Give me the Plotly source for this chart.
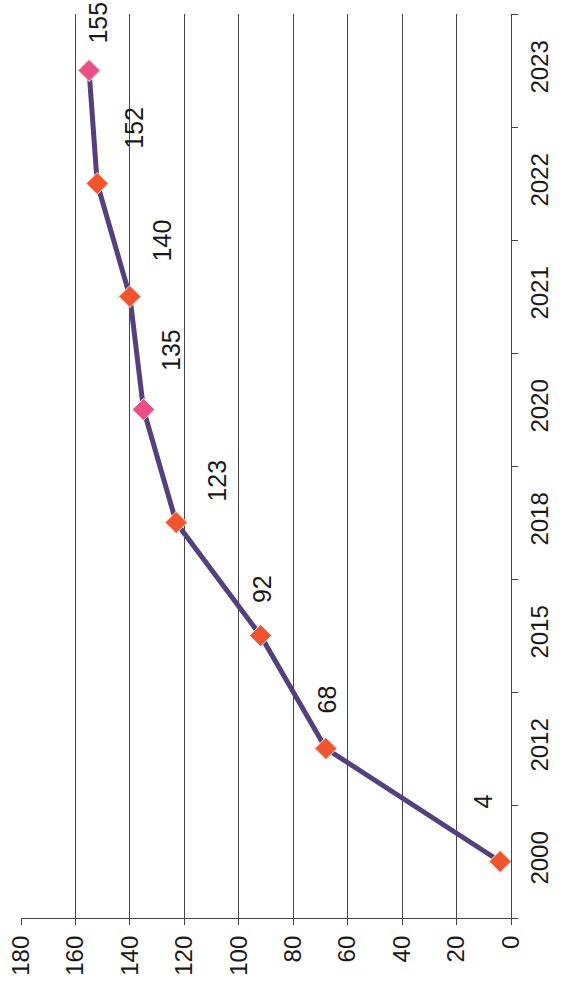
import plotly.graph_objects as go

years = ["2000", "2012", "2015", "2018", "2020", "2021", "2022", "2023"]
values = [4, 68, 92, 123, 135, 140, 152, 155]
value_ticks = [0, 20, 40, 60, 80, 100, 120, 140, 160, 180]

# styling (not data)
marker_colors = ["#F2552E", "#F2552E", "#F2552E", "#F2552E", "#EC4F86", "#F2552E", "#F2552E", "#EC4F86"]
label_dx = [-18, 1, 1, 40, 27, 32, 36, 8]
label_dy = [-60, -49, -46, -42, -59, -56, -56, -48]

FONT = "Liberation Sans, Arial, sans-serif"

fig = go.Figure()
fig.add_trace(go.Scatter(
    x=values, y=years, mode="lines+markers",
    line=dict(color="#54407E", width=5),
    marker=dict(symbol="diamond", size=17, color=marker_colors,
                line=dict(color="#FBE3DA", width=1)),
    hoverinfo="skip", showlegend=False,
))

for i, (v, dx, dy) in enumerate(zip(values, label_dx, label_dy)):
    fig.add_annotation(x=v, y=i, xref="x", yref="y", text=str(v), showarrow=False,
                       textangle=-90, xshift=dx, yshift=-dy,
                       font=dict(family=FONT, size=25, color="#1a1a1a"))

fig.update_layout(
    width=564, height=1000,
    margin=dict(l=21, r=53, t=14, b=82, autoexpand=False),
    paper_bgcolor="white", plot_bgcolor="white",
    font=dict(family=FONT, size=24, color="#1a1a1a"),
)
fig.update_xaxes(
    range=[180, 0], tickvals=value_ticks, ticktext=[str(t) for t in value_ticks],
    showgrid=True, gridcolor="#454545", gridwidth=1, automargin=False,
    zeroline=False, showline=True, linecolor="#454545", linewidth=1.2,
    ticks="outside", ticklen=6, tickcolor="#454545", tickangle=-90,
    ticklabelstandoff=1,
)
fig.update_yaxes(
    type="category", categoryorder="array", categoryarray=years,
    range=[-0.5, len(years) - 0.5], side="right", automargin=False,
    showgrid=False, zeroline=False, showline=True, linecolor="#454545", linewidth=1.2,
    ticks="outside", tickson="boundaries", ticklen=6, tickcolor="#454545",
    tickangle=-90, ticklabelstandoff=7,
)

fig.write_html("out.html", config={"displayModeBar": False},
               post_script="document.body.style.margin='0';document.body.style.overflow='hidden';")
